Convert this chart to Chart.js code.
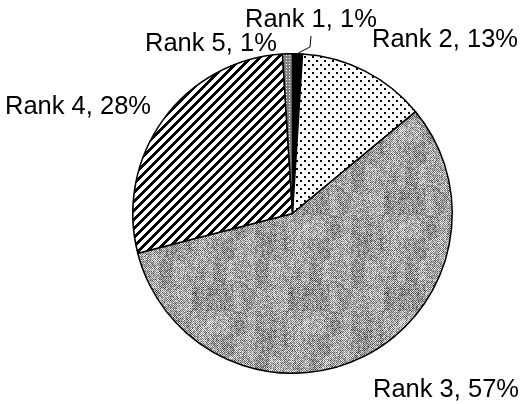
<!DOCTYPE html>
<html>
<head>
<meta charset="utf-8">
<script src="https://cdn.jsdelivr.net/npm/chart.js@4"></script>
<style>
  html, body { margin: 0; padding: 0; background: #fff; }
  #wrap { width: 523px; height: 404px; position: relative; }
</style>
</head>
<body>
<div id="wrap"><canvas id="pie"></canvas></div>
<script>
const ranks = ['Rank 1', 'Rank 2', 'Rank 3', 'Rank 4', 'Rank 5'];
const shares = [1, 13, 57, 28, 1];

// where each label sits: left x, baseline y
const labelSpots = [
  [245, 27], [372, 47], [373, 397], [5, 114], [145, 51]
];

// little hash so the grey texture looks the same every time
function hash(x, y) {
  let h = (x * 374761393 + y * 668265263) | 0;
  h = (h ^ (h >>> 13)) * 1274126177 | 0;
  return ((h ^ (h >>> 16)) >>> 0) / 4294967295;
}

function tile(size, paint) {
  const c = document.createElement('canvas');
  c.width = c.height = size;
  const g = c.getContext('2d');
  const img = g.createImageData(size, size);
  for (let y = 0; y < size; y++) {
    for (let x = 0; x < size; x++) {
      const v = paint(x, y);
      const i = (y * size + x) * 4;
      img.data[i] = img.data[i + 1] = img.data[i + 2] = v;
      img.data[i + 3] = 255;
    }
  }
  g.putImageData(img, 0, 0);
  return g.createPattern(c, 'repeat');
}

const ctx = document.getElementById('pie').getContext('2d');

const dots = tile(8, (x, y) => {
  const a = x % 8 < 2 && y % 8 < 2;
  const b = (x + 4) % 8 < 2 && (y + 4) % 8 < 2;
  return a || b ? 0 : 255;
});
// mottled grey: checker dither plus slow streaks and some noise
const grain = tile(96, (x, y) => {
  const checker = (x + y) % 2 ? 45 : -45;
  const streak = (hash(Math.floor(x / 7), Math.floor(y / 23)) - 0.5) * 40;
  const n = (hash(x, y) - 0.5) * 110;
  return Math.max(0, Math.min(255, Math.round(160 + checker + streak + n)));
});
const stripes = tile(9, (x, y) => ((x + y) % 9 < 4 ? 0 : 255));
const specks = tile(3, (x, y) => (x === 1 && y === 1 ? 255 : 130));

const fills = ['#000', dots, grain, stripes, specks];

const labelPlugin = {
  id: 'rankLabels',
  afterDraw(chart) {
    const g = chart.ctx;
    g.save();
    g.font = '25.5px "Liberation Sans", Arial, sans-serif';
    g.fillStyle = '#000';
    g.textBaseline = 'alphabetic';
    ranks.forEach((r, i) => {
      g.fillText(r + ', ' + shares[i] + '%', labelSpots[i][0], labelSpots[i][1]);
    });
    // leader from the Rank 1 label down to its sliver
    const arc = chart.getDatasetMeta(0).data[0];
    const mid = (arc.startAngle + arc.endAngle) / 2;
    const ex = arc.x + Math.cos(mid) * arc.outerRadius;
    const ey = arc.y + Math.sin(mid) * arc.outerRadius;
    g.strokeStyle = '#000';
    g.lineWidth = 1;
    g.beginPath();
    g.moveTo(311, 36);
    g.lineTo(310, 47);
    g.lineTo(ex + 1, ey - 1);
    g.stroke();
    g.restore();
  }
};

new Chart(ctx, {
  type: 'pie',
  data: {
    labels: ranks,
    datasets: [{
      data: shares,
      backgroundColor: fills,
      borderColor: '#000',
      borderWidth: 1.5
    }]
  },
  options: {
    responsive: true,
    maintainAspectRatio: false,
    animation: false,
    layout: { padding: { left: 132, right: 70, top: 53, bottom: 30 } },
    plugins: {
      legend: { display: false },
      tooltip: { enabled: false }
    }
  },
  plugins: [labelPlugin]
});
</script>
</body>
</html>
